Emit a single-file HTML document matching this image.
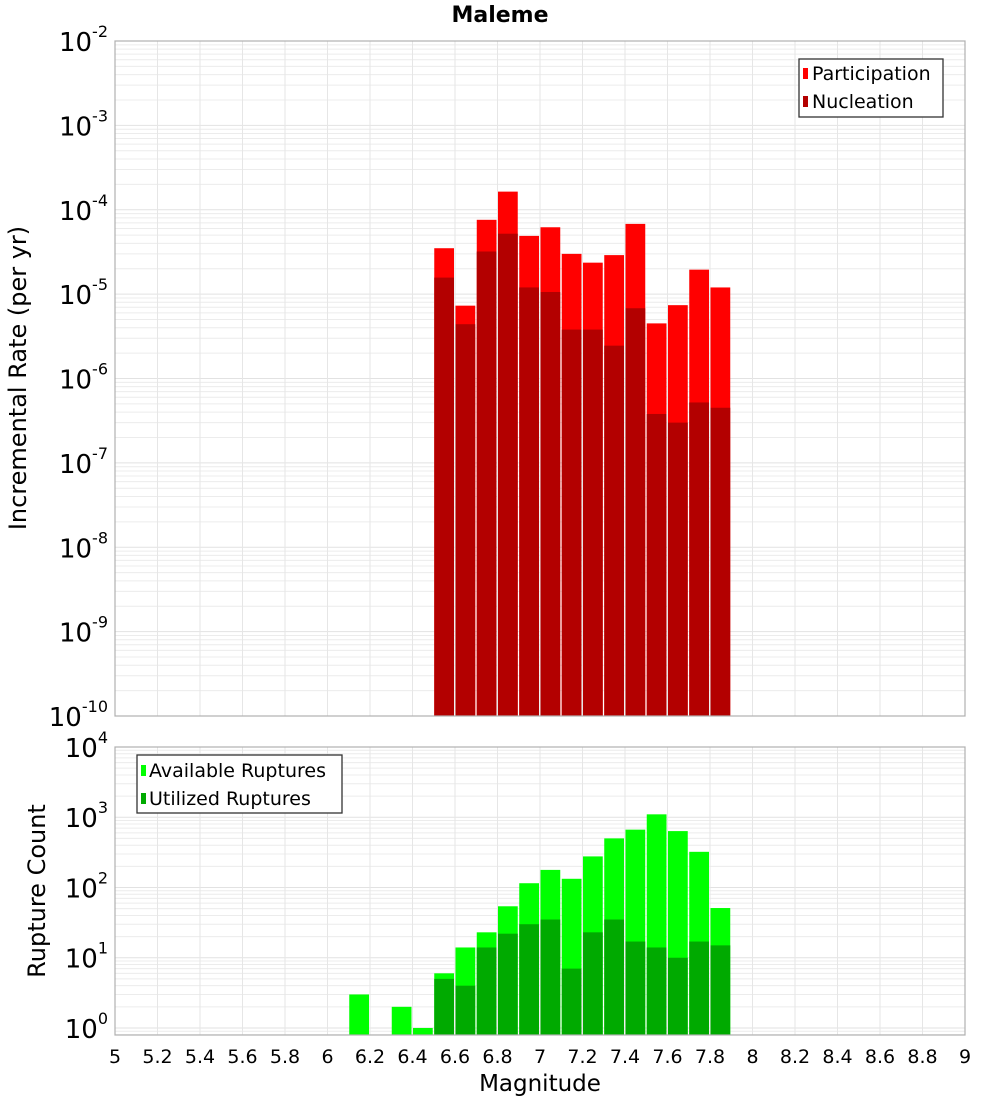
<!DOCTYPE html>
<html><head><meta charset="utf-8"><style>
body{margin:0;background:#fff}
svg text{font-family:"DejaVu Sans","Liberation Sans",sans-serif;fill:#000}
</style></head><body>
<svg id="c" width="1000" height="1100" xmlns="http://www.w3.org/2000/svg">
<text x="500" y="22" text-anchor="middle" font-size="22" font-weight="bold">Maleme</text>
<g id="grid"></g>
<g id="bars"></g>
<g id="axes"></g>
<text transform="translate(26,378) rotate(-90)" text-anchor="middle" font-size="24">Incremental Rate (per yr)</text>
<text transform="translate(45,891) rotate(-90)" text-anchor="middle" font-size="24">Rupture Count</text>
<text x="540" y="1091" text-anchor="middle" font-size="23">Magnitude</text>
<g>
<rect x="799" y="59" width="144" height="58" fill="#fff" stroke="#333" stroke-width="1.3"/>
<rect x="803" y="68" width="5" height="11" fill="#ff0000"/>
<text x="812" y="80" font-size="19">Participation</text>
<rect x="803" y="96" width="5" height="11" fill="#b30000"/>
<text x="812" y="108" font-size="19">Nucleation</text>
</g>
<g>
<rect x="137" y="755" width="205" height="58" fill="#fff" stroke="#333" stroke-width="1.3"/>
<rect x="141" y="765" width="5" height="11" fill="#00ff00"/>
<text x="149" y="777" font-size="19">Available Ruptures</text>
<rect x="141" y="793" width="5" height="11" fill="#00aa00"/>
<text x="149" y="805" font-size="19">Utilized Ruptures</text>
</g>
</svg>
<script>
const topMags=[6.55,6.65,6.75,6.85,6.95,7.05,7.15,7.25,7.35,7.45,7.55,7.65,7.75,7.85];
const participation=[3.5e-5,7.3e-6,7.6e-5,1.64e-4,4.9e-5,6.2e-5,3.0e-5,2.36e-5,2.9e-5,6.8e-5,4.5e-6,7.4e-6,1.95e-5,1.2e-5];
const nucleation=[1.57e-5,4.4e-6,3.2e-5,5.2e-5,1.2e-5,1.06e-5,3.8e-6,3.8e-6,2.45e-6,6.8e-6,3.8e-7,3.0e-7,5.2e-7,4.5e-7];
const botMags=[6.15,6.35,6.45,6.55,6.65,6.75,6.85,6.95,7.05,7.15,7.25,7.35,7.45,7.55,7.65,7.75,7.85];
const available=[3,2,1,6,14,23,54,115,178,133,277,500,666,1100,635,322,51];
const utilized=[0,0,0,5,4,14,22,30,35,7,23,35,17,14,10,17,15];
const xTicks=[5,5.2,5.4,5.6,5.8,6,6.2,6.4,6.6,6.8,7,7.2,7.4,7.6,7.8,8,8.2,8.4,8.6,8.8,9];
const topExps=[-10,-9,-8,-7,-6,-5,-4,-3,-2];
const botExps=[0,1,2,3,4];
const binW=0.1;
const NS="http://www.w3.org/2000/svg";
const X0=115,X1=965;
const xs=m=>X0+(m-5)/4*(X1-X0);
const T={top:41,bot:716,lmin:-10,lmax:-2};
const B={top:747,bot:1035,lmin:-0.1,lmax:4.0};
const ys=(P,v)=>P.bot-(Math.log10(v)-P.lmin)/(P.lmax-P.lmin)*(P.bot-P.top);
function mk(t,a,parent){const e=document.createElementNS(NS,t);for(const k in a)e.setAttribute(k,a[k]);document.getElementById(parent).appendChild(e);return e;}
function panel(P,exps,nm){
  for(let d=Math.floor(P.lmin);d<P.lmax;d++)for(let k=1;k<10;k++){
    const lv=d+Math.log10(k);if(lv<P.lmin||lv>P.lmax)continue;
    const y=ys(P,Math.pow(10,lv));
    const g=mk('line',{x1:X0,x2:X1,y1:y,y2:y,stroke:k==1?'#e2e2e2':'#ececec','stroke-width':1},'grid');
    
    
  }
  xTicks.forEach(t=>{const x=xs(t);const g=mk('line',{x1:x,x2:x,y1:P.top,y2:P.bot,stroke:'#e6e6e6'},'grid');
    
    });
  const r=mk('rect',{x:X0,y:P.top,width:X1-X0,height:P.bot-P.top,fill:'none',stroke:'#b0b0b0','stroke-width':1.2},'axes');
  
  
  exps.forEach(e=>{const y=ys(P,Math.pow(10,e));
    const t=mk('text',{x:108,y:y+10,'text-anchor':'end','font-size':26},'axes');
    t.innerHTML='10<tspan dy="-14" font-size="16">'+e+'</tspan>';
    
    });
}
panel(T,topExps,'top');panel(B,botExps,'bottom');
function bars(P,mags,vals,col,nm){
  mags.forEach((m,i)=>{if(vals[i]<=0)return;
    const x=xs(m-binW/2)+0.5,w=xs(m+binW/2)-xs(m-binW/2)-1.5;
    const y=Math.max(P.top,ys(P,vals[i]));
    const r=mk('rect',{x:x,y:y,width:w,height:P.bot-y,fill:col},'bars');
    
    });
}
bars(T,topMags,participation,'#ff0000','participation-bar');
bars(T,topMags,nucleation,'#b30000','nucleation-bar');
bars(B,botMags,available,'#00ff00','available-bar');
bars(B,botMags,utilized,'#00aa00','utilized-bar');
xTicks.forEach(t=>{const l=mk('text',{x:xs(t),y:1063,'text-anchor':'middle','font-size':19},'axes');
  l.textContent=String(t);
  
  });
</script>
</body></html>
